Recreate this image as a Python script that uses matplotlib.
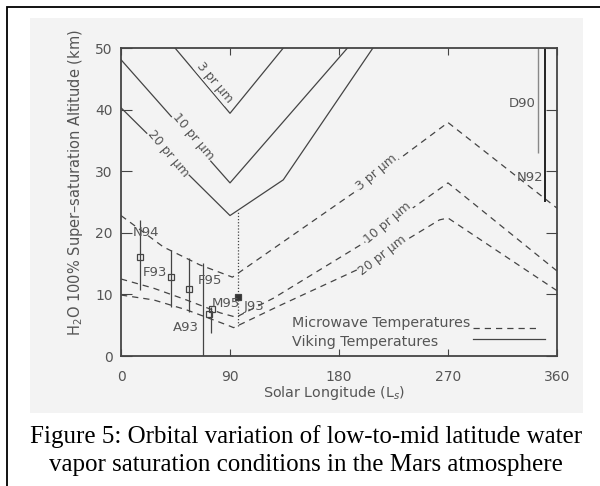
import matplotlib
matplotlib.use('Agg')
import matplotlib.pyplot as plt
import matplotlib.patches as patches

# Viking (solid) saturation curves
vik3_x = [44.6, 90, 134]
vik3_y = [50, 39.4, 50]
vik10_x = [0, 90, 187]
vik10_y = [48.1, 28.1, 50]
vik20_x = [0, 90, 134, 208]
vik20_y = [40.3, 22.8, 28.6, 50]

# Microwave (dashed) saturation curves
mw3_x = [0, 35, 65, 92, 195, 270, 360]
mw3_y = [22.8, 17.7, 14.8, 12.8, 26.9, 37.9, 24.0]
mw10_x = [0, 27, 54, 82, 95, 126, 200, 270, 360]
mw10_y = [12.5, 11.0, 9.1, 7.0, 6.3, 9.4, 18.3, 28.1, 13.8]
mw20_x = [0, 27, 54, 88, 93, 129, 195, 263, 270, 360]
mw20_y = [9.9, 9.1, 7.5, 5.0, 4.6, 8.0, 14.0, 22.1, 22.4, 10.6]

# observations
bar_x = [16, 41, 56, 68]
bar_lo = [10.7, 8.0, 7.1, 0]
bar_hi = [22.1, 17.2, 15.9, 15.1]
sq_x = [16, 41, 56, 73, 75]
sq_y = [16.1, 12.8, 10.9, 6.8, 7.6]
m95_x = 74
m95_lo, m95_hi = 3.7, 8.0
j93_x = 97
j93_lo, j93_hi, j93_val = 4.9, 23.5, 9.5
d90_x, d90_lo = 344, 33
n92_x, n92_lo = 350, 25

obs_labels = ['N94', 'F93', 'F95', 'M95', 'A93', 'J93', 'D90', 'N92']
obs_lx = [10, 18, 63, 75, 43, 101, 320, 327]
obs_ly = [20, 13.5, 12.3, 8.6, 4.7, 8.0, 41, 29]

PANEL = '#f3f3f3'
INK = '#444444'
TXT = '#555555'

fig = plt.figure(figsize=(6, 4.86), dpi=100)
fig.patch.set_facecolor('white')

# light grey panel and outer frame
fig.add_artist(patches.Rectangle((30/600, 73/486), 553/600, 395/486, transform=fig.transFigure,
                                 facecolor=PANEL, edgecolor='none', zorder=-10))
fig.add_artist(patches.Rectangle((7/600, -0.1), 1.0, 1.1 - 7/486, transform=fig.transFigure,
                                 facecolor='none', edgecolor='black', lw=1.3, zorder=-5))

ax = fig.add_axes([121/600, 130/486, 436/600, 308/486])
ax.set_facecolor(PANEL)
ax.set_xlim(0, 360)
ax.set_ylim(0, 50)

ls_dash = (0, (5, 4))
for xs, ys in [(vik3_x, vik3_y), (vik10_x, vik10_y), (vik20_x, vik20_y)]:
    ax.plot(xs, ys, color=INK, lw=0.9)
for xs, ys in [(mw3_x, mw3_y), (mw10_x, mw10_y), (mw20_x, mw20_y)]:
    ax.plot(xs, ys, color=INK, lw=0.9, linestyle=ls_dash)

ax.vlines(bar_x, bar_lo, bar_hi, color=INK, lw=0.9)
ax.vlines([m95_x], m95_lo, m95_hi, color=INK, lw=0.9)
ax.plot(sq_x, sq_y, 's', ms=5, mfc='none', mec=INK, mew=0.9)
ax.vlines([j93_x], j93_lo, j93_hi, color=INK, lw=0.9, linestyle=(0, (1, 1.5)))
ax.plot([j93_x], [j93_val], 's', ms=5, mfc='#333333', mec=INK, mew=0.9)
ax.vlines([d90_x], d90_lo, 50, color='#888888', lw=1.0)
ax.vlines([n92_x], n92_lo, 50, color='#222222', lw=1.4)

for lab, lx, ly in zip(obs_labels, obs_lx, obs_ly):
    ax.text(lx, ly, lab, fontsize=9.5, color=TXT, ha='left', va='center')

# inline curve labels
bb = dict(boxstyle='square,pad=0.05', facecolor=PANEL, edgecolor='none')
lab_kw = dict(fontsize=9, color=TXT, ha='center', va='center', bbox=bb)
ax.text(77, 44.4, '3 pr \u00b5m', rotation=-50, **lab_kw)
ax.text(60, 35.6, '10 pr \u00b5m', rotation=-50, **lab_kw)
ax.text(39, 32.8, '20 pr \u00b5m', rotation=-50, **lab_kw)
ax.text(211, 29.8, '3 pr \u00b5m', rotation=40, **lab_kw)
ax.text(220, 21.6, '10 pr \u00b5m', rotation=40, **lab_kw)
ax.text(216, 16.4, '20 pr \u00b5m', rotation=38, **lab_kw)

# legend drawn by hand
ax.text(141, 5.4, 'Microwave Temperatures', fontsize=10.3, color=TXT, ha='left', va='center')
ax.text(141, 2.3, 'Viking Temperatures', fontsize=10.3, color=TXT, ha='left', va='center')
ax.plot([291, 346], [4.5, 4.5], color=INK, lw=0.9, linestyle=ls_dash)
ax.plot([291, 350], [2.75, 2.75], color=INK, lw=0.9)

ax.set_xticks([0, 90, 180, 270, 360])
ax.set_yticks([0, 10, 20, 30, 40, 50])
ax.tick_params(axis='x', direction='in', length=5, top=True, pad=10, labelsize=10,
               labelcolor=TXT, color=INK)
ax.tick_params(axis='y', direction='in', length=8, right=True, pad=6, labelsize=10,
               labelcolor=TXT, color=INK)
for sp in ax.spines.values():
    sp.set_color(INK)
    sp.set_linewidth(1.3)

fig.text(76/600, 1 - 183/486, 'H$_2$O 100% Super\u2013saturation Altitude (km)', rotation=90,
         fontsize=10.5, color=TXT, ha='center', va='center')
fig.text(334/600, 1 - 393/486, 'Solar Longitude (L$_s$)', fontsize=10.3, color=TXT,
         ha='center', va='center')

fig.text(0.51, 1 - 437/486, 'Figure 5: Orbital variation of low-to-mid latitude water',
         fontsize=18, family='Liberation Serif', ha='center', va='center', color='black')
fig.text(0.51, 1 - 465/486, 'vapor saturation conditions in the Mars atmosphere',
         fontsize=18, family='Liberation Serif', ha='center', va='center', color='black')

fig.savefig('out.png', dpi=100)
